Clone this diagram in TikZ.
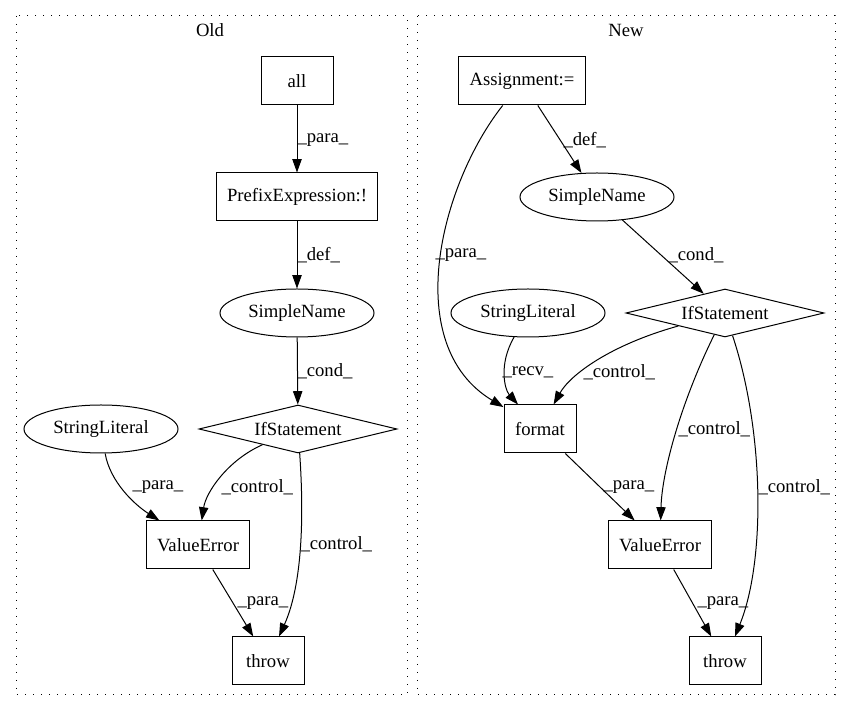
\documentclass[tikz,border=0pt]{standalone}
\usepackage{fontspec}
\setmainfont{Liberation Serif}
\usetikzlibrary{shapes.geometric,arrows.meta}

\begin{document}
\begin{tikzpicture}[x=0.75pt,y=-0.75pt,
	txt/.style={font=\fontsize{14pt}{16pt}\selectfont},
	box/.style={txt,draw,line width=0.75pt,rectangle,minimum width=54pt,minimum height=36pt,inner xsep=8pt},
	oval/.style={txt,draw,line width=0.75pt,ellipse,minimum width=115.5pt,minimum height=36pt,inner sep=0pt},
	cond/.style={txt,draw,line width=0.75pt,diamond,aspect=4.1,minimum width=148.5pt,minimum height=36pt,inner sep=0pt},
	edge/.style={line width=0.75pt,-{Triangle[length=10pt,width=7pt]}},
	lab/.style={txt,anchor=west,inner sep=0pt},
	cluster/.style={line width=0.75pt,dash pattern=on 1pt off 5pt}]
	\useasboundingbox (0,0) rectangle (851,712);

	% clusters
	\draw[cluster] (16,16) rectangle (407,695);
	\draw[cluster] (417,16) rectangle (835,695);
	\node[txt] (oldTitle) at (210,30) {Old};
	\node[txt] (newTitle) at (626,30) {New};

	% old version
	\node[box]  (oldAll)    at (297,81)  {all};
	\node[box]  (oldPrefix) at (297,197) {PrefixExpression:!};
	\node[oval] (oldName)   at (297,313) {SimpleName};
	\node[cond] (oldIf)     at (298,429) {IfStatement};
	\node[oval] (oldLit)    at (101,429) {StringLiteral};
	\node[box]  (oldErr)    at (198,545) {ValueError};
	\node[box]  (oldThrow)  at (268,661) {throw};

	\draw[edge] (oldAll) -- (oldPrefix) node[lab] at (297,140) {\_para\_};
	\draw[edge] (oldPrefix) -- (oldName) node[lab] at (297,255) {\_def\_};
	\draw[edge] (oldName) -- (oldIf) node[lab] at (297,371) {\_cond\_};
	\draw[edge] (oldLit) .. controls (110,482) and (135,505) .. (oldErr) node[lab] at (132,487) {\_para\_};
	\draw[edge] (oldIf) .. controls (228,460) and (206,492) .. (oldErr) node[lab] at (221,487) {\_control\_};
	\draw[edge] (oldIf) .. controls (305,530) and (300,590) .. (oldThrow) node[lab] at (300,544) {\_control\_};
	\draw[edge] (oldErr) -- (oldThrow) node[lab] at (237,603) {\_para\_};

	% new version
	\node[box]  (newAssign) at (522,81)  {Assignment:=};
	\node[oval] (newName)   at (597,197) {SimpleName};
	\node[cond] (newIf)     at (725,313) {IfStatement};
	\node[oval] (newLit)    at (528,313) {StringLiteral};
	\node[box]  (newFormat) at (540,429) {format};
	\node[box]  (newErr)    at (660,545) {ValueError};
	\node[box]  (newThrow)  at (725,661) {throw};

	\draw[edge] (newAssign) .. controls (440,185) and (400,345) .. (newFormat) node[lab] at (435,255) {\_para\_};
	\draw[edge] (newAssign) -- (newName) node[lab] at (563,140) {\_def\_};
	\draw[edge] (newName) -- (newIf) node[lab] at (668,255) {\_cond\_};
	\draw[edge] (newLit) .. controls (498,365) and (505,390) .. (newFormat) node[lab] at (502,372) {\_recv\_};
	\draw[edge] (newIf) .. controls (610,345) and (570,375) .. (newFormat) node[lab] at (583,372) {\_control\_};
	\draw[edge] (newIf) .. controls (682,400) and (662,470) .. (newErr) node[lab] at (678,429) {\_control\_};
	\draw[edge] (newIf) .. controls (764,430) and (766,560) .. (newThrow) node[lab] at (758,487) {\_control\_};
	\draw[edge] (newFormat) -- (newErr) node[lab] at (603,487) {\_para\_};
	\draw[edge] (newErr) -- (newThrow) node[lab] at (697,603) {\_para\_};
\end{tikzpicture}
\end{document}
